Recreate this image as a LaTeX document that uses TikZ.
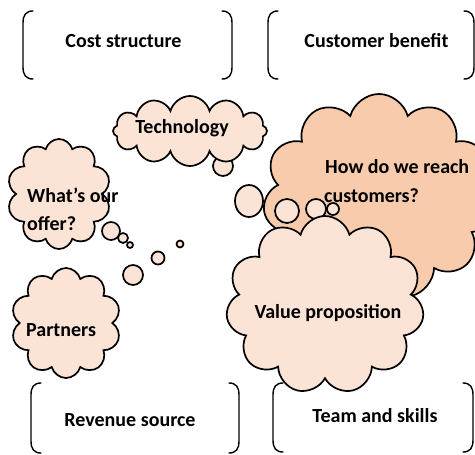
\documentclass[tikz,border=0pt]{standalone}
\usepackage{fontspec}
\setmainfont{Carlito}
\usetikzlibrary{shapes.symbols,shapes.geometric}
\definecolor{peach}{HTML}{FBE3D6}
\definecolor{peachdark}{HTML}{F8CBAD}
\newcommand\LeftBrk[3]{\draw[brk] (#1+10,#2) .. controls (#1+3,#2) and (#1,#2+4) .. (#1,#2+12) -- (#1,#3-12) .. controls (#1,#3-4) and (#1+3,#3) .. (#1+10,#3);}
\newcommand\RightBrk[3]{\draw[brk] (#1-10,#2) .. controls (#1-3,#2) and (#1,#2+4) .. (#1,#2+12) -- (#1,#3-12) .. controls (#1,#3-4) and (#1-3,#3) .. (#1-10,#3);}
\begin{document}
\begin{tikzpicture}[x=1pt,y=-1pt,
  lbl/.style={font=\bfseries\fontsize{20}{24}\selectfont, inner sep=0pt},
  brk/.style={line width=1.4pt, line cap=round},
  cl/.style={cloud, cloud puffs=#1, cloud ignores aspect, draw, line width=1.7pt, fill=peach, inner sep=0pt},
  bub/.style={draw, line width=1.7pt, fill=peach}]
\useasboundingbox (0,0) rectangle (475,455);
% bracket boxes
\LeftBrk{23}{11}{79}\RightBrk{232}{11}{79}
\LeftBrk{268}{11}{79}\RightBrk{474}{11}{79}
\LeftBrk{31}{383}{453}\RightBrk{239}{383}{453}
\LeftBrk{273}{383}{452}\RightBrk{473}{383}{452}
\node[lbl, anchor=base] (cost) at (123.5,48) {Cost structure};
\node[lbl, anchor=base] (benefit) at (376.5,48) {Customer benefit};
\node[lbl, anchor=base] (revenue) at (130,426) {Revenue source};
\node[lbl, anchor=base] (team) at (375,422) {Team and skills};
% technology cloud
\node[bub, circle, minimum size=20pt, inner sep=0pt] (techb) at (223,166) {};
\node[cl=12, minimum width=154pt, minimum height=70pt] (techc) at (190,131) {};
\node[lbl, anchor=base] (tech) at (182,133) {Technology};
% offer cloud
\node[cl=10, minimum width=104pt, minimum height=110pt] (offerc) at (59,194) {};
\node[bub, circle, minimum size=18pt, inner sep=0pt] (ob1) at (111,231) {};
\node[bub, circle, minimum size=10pt, inner sep=0pt] (ob2) at (123,238) {};
\node[bub, circle, minimum size=6pt, inner sep=0pt] (ob3) at (130,245) {};
\node[lbl, anchor=base west] (offer1) at (27,202) {What’s our};
\node[lbl, anchor=base west] (offer2) at (27,230) {offer?};
% trail bubbles
\node[bub, circle, minimum size=7pt, inner sep=0pt] (tb1) at (180,244) {};
\node[bub, circle, minimum size=13pt, inner sep=0pt] (tb2) at (158,258) {};
\node[bub, circle, minimum size=20pt, inner sep=0pt] (tb3) at (133,275) {};
% partners cloud
\node[cl=10, minimum width=110pt, minimum height=110pt] (partc) at (66,323) {};
\node[lbl, anchor=base west] (partners) at (26,336) {Partners};
% reach cloud
\node[bub, ellipse, minimum width=28pt, minimum height=32pt, inner sep=0pt] (rel) at (249,201) {};
\node[cl=11, fill=peachdark, minimum width=232pt, minimum height=206pt] (reachc) at (379,197) {};
\node[lbl, anchor=base west] (reach1) at (325,173) {How do we reach};
\node[lbl, anchor=base west] (reach2) at (324,202) {customers?};
% value cloud bubbles
\node[bub, circle, minimum size=24pt, inner sep=0pt] (vb1) at (287,211) {};
\node[bub, circle, minimum size=20pt, inner sep=0pt] (vb2) at (316,209) {};
\node[bub, circle, minimum size=12pt, inner sep=0pt] (vb3) at (333,209) {};
\node[cl=11, minimum width=198pt, minimum height=178pt] (valuec) at (325,305) {};
\node[lbl, anchor=base] (value) at (328,318) {Value proposition};
\end{tikzpicture}
\end{document}
